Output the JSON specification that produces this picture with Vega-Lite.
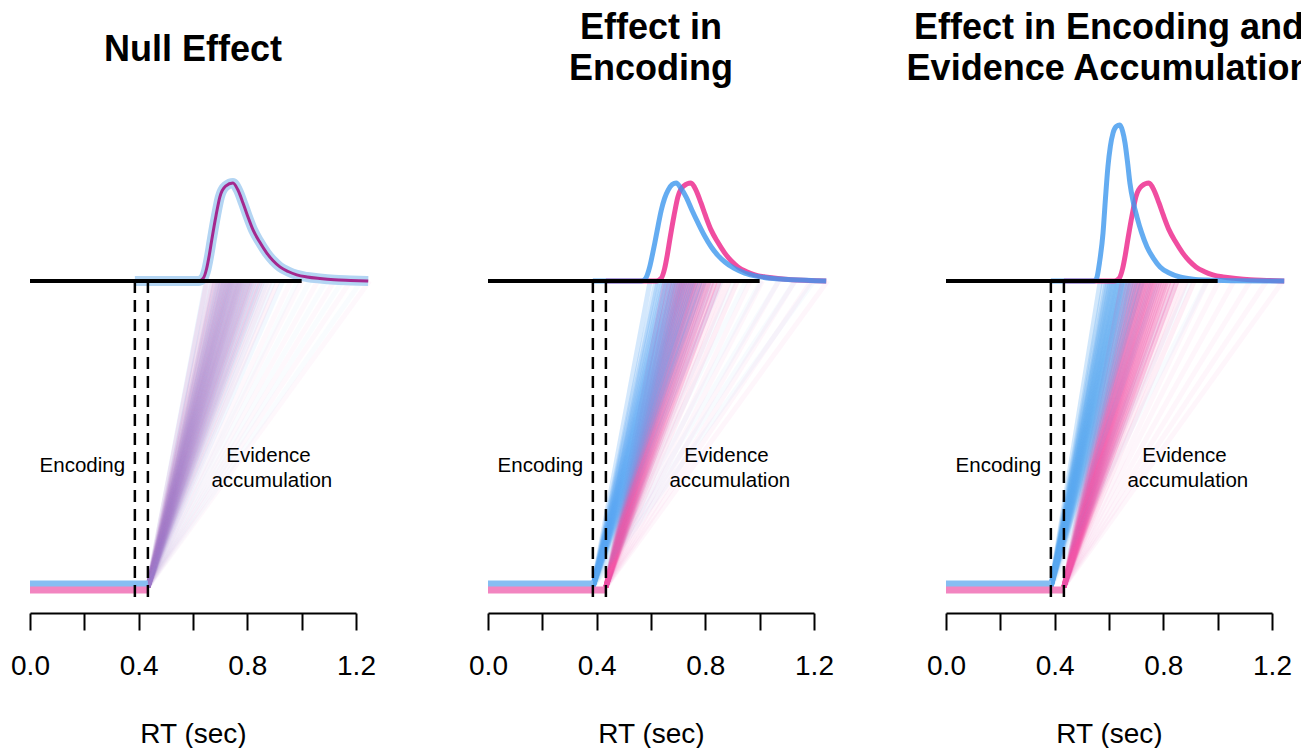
{
 "$schema": "https://vega.github.io/schema/vega-lite/v6.json",
 "padding": {"left": 10, "top": 10, "right": 0, "bottom": 0},
 "bounds": "flush",
 "spacing": 132,
 "background": "white",
 "config": {"view": {"stroke": null}, "font": "Liberation Sans", "axisY": {"disable": true}},
 "datasets": {
  "traces": [
   {"p":"null","c":"blue","t":0.434,"t2":0.648,"y":0,"y2":1},{"p":"null","c":"blue","t":0.434,"t2":0.668,"y":0,"y2":1},{"p":"null","c":"blue","t":0.434,"t2":0.684,"y":0,"y2":1},{"p":"null","c":"blue","t":0.434,"t2":0.693,"y":0,"y2":1},{"p":"null","c":"blue","t":0.434,"t2":0.702,"y":0,"y2":1},{"p":"null","c":"blue","t":0.434,"t2":0.708,"y":0,"y2":1},{"p":"null","c":"blue","t":0.434,"t2":0.715,"y":0,"y2":1},{"p":"null","c":"blue","t":0.434,"t2":0.721,"y":0,"y2":1},{"p":"null","c":"blue","t":0.434,"t2":0.727,"y":0,"y2":1},{"p":"null","c":"blue","t":0.434,"t2":0.733,"y":0,"y2":1},{"p":"null","c":"blue","t":0.434,"t2":0.739,"y":0,"y2":1},{"p":"null","c":"blue","t":0.434,"t2":0.744,"y":0,"y2":1},{"p":"null","c":"blue","t":0.434,"t2":0.750,"y":0,"y2":1},{"p":"null","c":"blue","t":0.434,"t2":0.757,"y":0,"y2":1},{"p":"null","c":"blue","t":0.434,"t2":0.763,"y":0,"y2":1},{"p":"null","c":"blue","t":0.434,"t2":0.770,"y":0,"y2":1},{"p":"null","c":"blue","t":0.434,"t2":0.776,"y":0,"y2":1},{"p":"null","c":"blue","t":0.434,"t2":0.783,"y":0,"y2":1},{"p":"null","c":"blue","t":0.434,"t2":0.791,"y":0,"y2":1},{"p":"null","c":"blue","t":0.434,"t2":0.799,"y":0,"y2":1},{"p":"null","c":"blue","t":0.434,"t2":0.808,"y":0,"y2":1},{"p":"null","c":"blue","t":0.434,"t2":0.817,"y":0,"y2":1},{"p":"null","c":"blue","t":0.434,"t2":0.828,"y":0,"y2":1},{"p":"null","c":"blue","t":0.434,"t2":0.842,"y":0,"y2":1},{"p":"null","c":"blue","t":0.434,"t2":0.857,"y":0,"y2":1},{"p":"null","c":"blue","t":0.434,"t2":0.874,"y":0,"y2":1},{"p":"null","c":"blue","t":0.434,"t2":0.897,"y":0,"y2":1},{"p":"null","c":"blue","t":0.434,"t2":0.930,"y":0,"y2":1},{"p":"null","c":"blue","t":0.434,"t2":0.985,"y":0,"y2":1},{"p":"null","c":"blue","t":0.434,"t2":1.03,"y":0,"y2":1},{"p":"null","c":"blue","t":0.434,"t2":1.09,"y":0,"y2":1},{"p":"null","c":"blue","t":0.434,"t2":1.15,"y":0,"y2":1},{"p":"null","c":"blue","t":0.434,"t2":1.22,"y":0,"y2":1},
   {"p":"null","c":"pink","t":0.434,"t2":0.651,"y":0,"y2":1},{"p":"null","c":"pink","t":0.434,"t2":0.672,"y":0,"y2":1},{"p":"null","c":"pink","t":0.434,"t2":0.681,"y":0,"y2":1},{"p":"null","c":"pink","t":0.434,"t2":0.690,"y":0,"y2":1},{"p":"null","c":"pink","t":0.434,"t2":0.699,"y":0,"y2":1},{"p":"null","c":"pink","t":0.434,"t2":0.705,"y":0,"y2":1},{"p":"null","c":"pink","t":0.434,"t2":0.712,"y":0,"y2":1},{"p":"null","c":"pink","t":0.434,"t2":0.718,"y":0,"y2":1},{"p":"null","c":"pink","t":0.434,"t2":0.724,"y":0,"y2":1},{"p":"null","c":"pink","t":0.434,"t2":0.730,"y":0,"y2":1},{"p":"null","c":"pink","t":0.434,"t2":0.736,"y":0,"y2":1},{"p":"null","c":"pink","t":0.434,"t2":0.741,"y":0,"y2":1},{"p":"null","c":"pink","t":0.434,"t2":0.747,"y":0,"y2":1},{"p":"null","c":"pink","t":0.434,"t2":0.754,"y":0,"y2":1},{"p":"null","c":"pink","t":0.434,"t2":0.760,"y":0,"y2":1},{"p":"null","c":"pink","t":0.434,"t2":0.767,"y":0,"y2":1},{"p":"null","c":"pink","t":0.434,"t2":0.773,"y":0,"y2":1},{"p":"null","c":"pink","t":0.434,"t2":0.779,"y":0,"y2":1},{"p":"null","c":"pink","t":0.434,"t2":0.787,"y":0,"y2":1},{"p":"null","c":"pink","t":0.434,"t2":0.795,"y":0,"y2":1},{"p":"null","c":"pink","t":0.434,"t2":0.804,"y":0,"y2":1},{"p":"null","c":"pink","t":0.434,"t2":0.813,"y":0,"y2":1},{"p":"null","c":"pink","t":0.434,"t2":0.821,"y":0,"y2":1},{"p":"null","c":"pink","t":0.434,"t2":0.836,"y":0,"y2":1},{"p":"null","c":"pink","t":0.434,"t2":0.850,"y":0,"y2":1},{"p":"null","c":"pink","t":0.434,"t2":0.865,"y":0,"y2":1},{"p":"null","c":"pink","t":0.434,"t2":0.885,"y":0,"y2":1},{"p":"null","c":"pink","t":0.434,"t2":0.913,"y":0,"y2":1},{"p":"null","c":"pink","t":0.434,"t2":0.960,"y":0,"y2":1},{"p":"null","c":"pink","t":0.434,"t2":1.000,"y":0,"y2":1},{"p":"null","c":"pink","t":0.434,"t2":1.059,"y":0,"y2":1},{"p":"null","c":"pink","t":0.434,"t2":1.12,"y":0,"y2":1},{"p":"null","c":"pink","t":0.434,"t2":1.18,"y":0,"y2":1},{"p":"null","c":"pink","t":0.434,"t2":1.25,"y":0,"y2":1},
   {"p":"enc","c":"blue","t":0.386,"t2":0.597,"y":0,"y2":1},{"p":"enc","c":"blue","t":0.386,"t2":0.618,"y":0,"y2":1},{"p":"enc","c":"blue","t":0.386,"t2":0.627,"y":0,"y2":1},{"p":"enc","c":"blue","t":0.386,"t2":0.636,"y":0,"y2":1},{"p":"enc","c":"blue","t":0.386,"t2":0.645,"y":0,"y2":1},{"p":"enc","c":"blue","t":0.386,"t2":0.651,"y":0,"y2":1},{"p":"enc","c":"blue","t":0.386,"t2":0.658,"y":0,"y2":1},{"p":"enc","c":"blue","t":0.386,"t2":0.664,"y":0,"y2":1},{"p":"enc","c":"blue","t":0.386,"t2":0.670,"y":0,"y2":1},{"p":"enc","c":"blue","t":0.386,"t2":0.676,"y":0,"y2":1},{"p":"enc","c":"blue","t":0.386,"t2":0.682,"y":0,"y2":1},{"p":"enc","c":"blue","t":0.386,"t2":0.687,"y":0,"y2":1},{"p":"enc","c":"blue","t":0.386,"t2":0.693,"y":0,"y2":1},{"p":"enc","c":"blue","t":0.386,"t2":0.700,"y":0,"y2":1},{"p":"enc","c":"blue","t":0.386,"t2":0.706,"y":0,"y2":1},{"p":"enc","c":"blue","t":0.386,"t2":0.713,"y":0,"y2":1},{"p":"enc","c":"blue","t":0.386,"t2":0.719,"y":0,"y2":1},{"p":"enc","c":"blue","t":0.386,"t2":0.725,"y":0,"y2":1},{"p":"enc","c":"blue","t":0.386,"t2":0.733,"y":0,"y2":1},{"p":"enc","c":"blue","t":0.386,"t2":0.741,"y":0,"y2":1},{"p":"enc","c":"blue","t":0.386,"t2":0.750,"y":0,"y2":1},{"p":"enc","c":"blue","t":0.386,"t2":0.759,"y":0,"y2":1},{"p":"enc","c":"blue","t":0.386,"t2":0.767,"y":0,"y2":1},{"p":"enc","c":"blue","t":0.386,"t2":0.782,"y":0,"y2":1},{"p":"enc","c":"blue","t":0.386,"t2":0.796,"y":0,"y2":1},{"p":"enc","c":"blue","t":0.386,"t2":0.811,"y":0,"y2":1},{"p":"enc","c":"blue","t":0.386,"t2":0.831,"y":0,"y2":1},{"p":"enc","c":"blue","t":0.386,"t2":0.859,"y":0,"y2":1},{"p":"enc","c":"blue","t":0.386,"t2":0.906,"y":0,"y2":1},{"p":"enc","c":"blue","t":0.386,"t2":0.95,"y":0,"y2":1},{"p":"enc","c":"blue","t":0.386,"t2":1.005,"y":0,"y2":1},{"p":"enc","c":"blue","t":0.386,"t2":1.07,"y":0,"y2":1},{"p":"enc","c":"blue","t":0.386,"t2":1.13,"y":0,"y2":1},{"p":"enc","c":"blue","t":0.386,"t2":1.2,"y":0,"y2":1},
   {"p":"enc","c":"pink","t":0.434,"t2":0.653,"y":0,"y2":1},{"p":"enc","c":"pink","t":0.434,"t2":0.670,"y":0,"y2":1},{"p":"enc","c":"pink","t":0.434,"t2":0.683,"y":0,"y2":1},{"p":"enc","c":"pink","t":0.434,"t2":0.692,"y":0,"y2":1},{"p":"enc","c":"pink","t":0.434,"t2":0.700,"y":0,"y2":1},{"p":"enc","c":"pink","t":0.434,"t2":0.707,"y":0,"y2":1},{"p":"enc","c":"pink","t":0.434,"t2":0.713,"y":0,"y2":1},{"p":"enc","c":"pink","t":0.434,"t2":0.719,"y":0,"y2":1},{"p":"enc","c":"pink","t":0.434,"t2":0.725,"y":0,"y2":1},{"p":"enc","c":"pink","t":0.434,"t2":0.731,"y":0,"y2":1},{"p":"enc","c":"pink","t":0.434,"t2":0.737,"y":0,"y2":1},{"p":"enc","c":"pink","t":0.434,"t2":0.743,"y":0,"y2":1},{"p":"enc","c":"pink","t":0.434,"t2":0.749,"y":0,"y2":1},{"p":"enc","c":"pink","t":0.434,"t2":0.755,"y":0,"y2":1},{"p":"enc","c":"pink","t":0.434,"t2":0.761,"y":0,"y2":1},{"p":"enc","c":"pink","t":0.434,"t2":0.768,"y":0,"y2":1},{"p":"enc","c":"pink","t":0.434,"t2":0.774,"y":0,"y2":1},{"p":"enc","c":"pink","t":0.434,"t2":0.781,"y":0,"y2":1},{"p":"enc","c":"pink","t":0.434,"t2":0.789,"y":0,"y2":1},{"p":"enc","c":"pink","t":0.434,"t2":0.797,"y":0,"y2":1},{"p":"enc","c":"pink","t":0.434,"t2":0.806,"y":0,"y2":1},{"p":"enc","c":"pink","t":0.434,"t2":0.815,"y":0,"y2":1},{"p":"enc","c":"pink","t":0.434,"t2":0.825,"y":0,"y2":1},{"p":"enc","c":"pink","t":0.434,"t2":0.838,"y":0,"y2":1},{"p":"enc","c":"pink","t":0.434,"t2":0.852,"y":0,"y2":1},{"p":"enc","c":"pink","t":0.434,"t2":0.868,"y":0,"y2":1},{"p":"enc","c":"pink","t":0.434,"t2":0.889,"y":0,"y2":1},{"p":"enc","c":"pink","t":0.434,"t2":0.918,"y":0,"y2":1},{"p":"enc","c":"pink","t":0.434,"t2":0.965,"y":0,"y2":1},{"p":"enc","c":"pink","t":0.434,"t2":1.01,"y":0,"y2":1},{"p":"enc","c":"pink","t":0.434,"t2":1.07,"y":0,"y2":1},{"p":"enc","c":"pink","t":0.434,"t2":1.13,"y":0,"y2":1},{"p":"enc","c":"pink","t":0.434,"t2":1.19,"y":0,"y2":1},{"p":"enc","c":"pink","t":0.434,"t2":1.25,"y":0,"y2":1},
   {"p":"both","c":"blue","t":0.386,"t2":0.568,"y":0,"y2":1},{"p":"both","c":"blue","t":0.386,"t2":0.583,"y":0,"y2":1},{"p":"both","c":"blue","t":0.386,"t2":0.591,"y":0,"y2":1},{"p":"both","c":"blue","t":0.386,"t2":0.598,"y":0,"y2":1},{"p":"both","c":"blue","t":0.386,"t2":0.603,"y":0,"y2":1},{"p":"both","c":"blue","t":0.386,"t2":0.607,"y":0,"y2":1},{"p":"both","c":"blue","t":0.386,"t2":0.612,"y":0,"y2":1},{"p":"both","c":"blue","t":0.386,"t2":0.617,"y":0,"y2":1},{"p":"both","c":"blue","t":0.386,"t2":0.621,"y":0,"y2":1},{"p":"both","c":"blue","t":0.386,"t2":0.625,"y":0,"y2":1},{"p":"both","c":"blue","t":0.386,"t2":0.630,"y":0,"y2":1},{"p":"both","c":"blue","t":0.386,"t2":0.634,"y":0,"y2":1},{"p":"both","c":"blue","t":0.386,"t2":0.638,"y":0,"y2":1},{"p":"both","c":"blue","t":0.386,"t2":0.642,"y":0,"y2":1},{"p":"both","c":"blue","t":0.386,"t2":0.647,"y":0,"y2":1},{"p":"both","c":"blue","t":0.386,"t2":0.651,"y":0,"y2":1},{"p":"both","c":"blue","t":0.386,"t2":0.655,"y":0,"y2":1},{"p":"both","c":"blue","t":0.386,"t2":0.660,"y":0,"y2":1},{"p":"both","c":"blue","t":0.386,"t2":0.665,"y":0,"y2":1},{"p":"both","c":"blue","t":0.386,"t2":0.671,"y":0,"y2":1},{"p":"both","c":"blue","t":0.386,"t2":0.676,"y":0,"y2":1},{"p":"both","c":"blue","t":0.386,"t2":0.683,"y":0,"y2":1},{"p":"both","c":"blue","t":0.386,"t2":0.691,"y":0,"y2":1},{"p":"both","c":"blue","t":0.386,"t2":0.699,"y":0,"y2":1},{"p":"both","c":"blue","t":0.386,"t2":0.710,"y":0,"y2":1},{"p":"both","c":"blue","t":0.386,"t2":0.723,"y":0,"y2":1},{"p":"both","c":"blue","t":0.386,"t2":0.736,"y":0,"y2":1},{"p":"both","c":"blue","t":0.386,"t2":0.758,"y":0,"y2":1},{"p":"both","c":"blue","t":0.386,"t2":0.785,"y":0,"y2":1},{"p":"both","c":"blue","t":0.386,"t2":0.848,"y":0,"y2":1},{"p":"both","c":"blue","t":0.386,"t2":0.90,"y":0,"y2":1},{"p":"both","c":"blue","t":0.386,"t2":0.96,"y":0,"y2":1},
   {"p":"both","c":"pink","t":0.434,"t2":0.650,"y":0,"y2":1},{"p":"both","c":"pink","t":0.434,"t2":0.671,"y":0,"y2":1},{"p":"both","c":"pink","t":0.434,"t2":0.682,"y":0,"y2":1},{"p":"both","c":"pink","t":0.434,"t2":0.691,"y":0,"y2":1},{"p":"both","c":"pink","t":0.434,"t2":0.699,"y":0,"y2":1},{"p":"both","c":"pink","t":0.434,"t2":0.706,"y":0,"y2":1},{"p":"both","c":"pink","t":0.434,"t2":0.712,"y":0,"y2":1},{"p":"both","c":"pink","t":0.434,"t2":0.718,"y":0,"y2":1},{"p":"both","c":"pink","t":0.434,"t2":0.724,"y":0,"y2":1},{"p":"both","c":"pink","t":0.434,"t2":0.730,"y":0,"y2":1},{"p":"both","c":"pink","t":0.434,"t2":0.736,"y":0,"y2":1},{"p":"both","c":"pink","t":0.434,"t2":0.742,"y":0,"y2":1},{"p":"both","c":"pink","t":0.434,"t2":0.748,"y":0,"y2":1},{"p":"both","c":"pink","t":0.434,"t2":0.754,"y":0,"y2":1},{"p":"both","c":"pink","t":0.434,"t2":0.760,"y":0,"y2":1},{"p":"both","c":"pink","t":0.434,"t2":0.766,"y":0,"y2":1},{"p":"both","c":"pink","t":0.434,"t2":0.772,"y":0,"y2":1},{"p":"both","c":"pink","t":0.434,"t2":0.779,"y":0,"y2":1},{"p":"both","c":"pink","t":0.434,"t2":0.787,"y":0,"y2":1},{"p":"both","c":"pink","t":0.434,"t2":0.795,"y":0,"y2":1},{"p":"both","c":"pink","t":0.434,"t2":0.804,"y":0,"y2":1},{"p":"both","c":"pink","t":0.434,"t2":0.813,"y":0,"y2":1},{"p":"both","c":"pink","t":0.434,"t2":0.822,"y":0,"y2":1},{"p":"both","c":"pink","t":0.434,"t2":0.836,"y":0,"y2":1},{"p":"both","c":"pink","t":0.434,"t2":0.851,"y":0,"y2":1},{"p":"both","c":"pink","t":0.434,"t2":0.866,"y":0,"y2":1},{"p":"both","c":"pink","t":0.434,"t2":0.886,"y":0,"y2":1},{"p":"both","c":"pink","t":0.434,"t2":0.914,"y":0,"y2":1},{"p":"both","c":"pink","t":0.434,"t2":0.962,"y":0,"y2":1},{"p":"both","c":"pink","t":0.434,"t2":1.005,"y":0,"y2":1},{"p":"both","c":"pink","t":0.434,"t2":1.06,"y":0,"y2":1},{"p":"both","c":"pink","t":0.434,"t2":1.12,"y":0,"y2":1},{"p":"both","c":"pink","t":0.434,"t2":1.18,"y":0,"y2":1},{"p":"both","c":"pink","t":0.434,"t2":1.24,"y":0,"y2":1}
  ],
  "start": [
   {"p":"null","c":"blue","t":0,"t2":0.434,"y":0},{"p":"null","c":"pink","t":0,"t2":0.434,"y":0},
   {"p":"enc","c":"blue","t":0,"t2":0.386,"y":0},{"p":"enc","c":"pink","t":0,"t2":0.434,"y":0},
   {"p":"both","c":"blue","t":0,"t2":0.386,"y":0},{"p":"both","c":"pink","t":0,"t2":0.434,"y":0}
  ],
  "bound": [
   {"p":"null","t":0,"t2":1.0,"y":1},{"p":"enc","t":0,"t2":1.0,"y":1},{"p":"both","t":0,"t2":1.0,"y":1}
  ],
  "dashes": [
   {"p":"null","t":0.386,"y":1,"y2":-0.035},{"p":"null","t":0.434,"y":1,"y2":-0.035},
   {"p":"enc","t":0.386,"y":1,"y2":-0.035},{"p":"enc","t":0.434,"y":1,"y2":-0.035},
   {"p":"both","t":0.386,"y":1,"y2":-0.035},{"p":"both","t":0.434,"y":1,"y2":-0.035}
  ],
  "notes": [
   {"label":"Encoding","t":0.35,"y":0.376},{"label":"Evidence","t":0.878,"y":0.408},{"label":"accumulation","t":0.89,"y":0.327}
  ],
  "dens": [
   {"p":"null","c":"blue","t":0.386,"y":1},{"p":"null","c":"blue","t":0.62,"y":1},{"p":"null","c":"blue","t":0.637,"y":1.008},{"p":"null","c":"blue","t":0.65,"y":1.04},{"p":"null","c":"blue","t":0.66,"y":1.085},{"p":"null","c":"blue","t":0.669,"y":1.134},{"p":"null","c":"blue","t":0.685,"y":1.215},{"p":"null","c":"blue","t":0.699,"y":1.275},{"p":"null","c":"blue","t":0.72,"y":1.31},{"p":"null","c":"blue","t":0.747,"y":1.32},{"p":"null","c":"blue","t":0.765,"y":1.298},{"p":"null","c":"blue","t":0.784,"y":1.255},{"p":"null","c":"blue","t":0.8,"y":1.215},{"p":"null","c":"blue","t":0.821,"y":1.167},{"p":"null","c":"blue","t":0.845,"y":1.128},{"p":"null","c":"blue","t":0.871,"y":1.092},{"p":"null","c":"blue","t":0.895,"y":1.066},{"p":"null","c":"blue","t":0.92,"y":1.046},{"p":"null","c":"blue","t":0.95,"y":1.031},{"p":"null","c":"blue","t":0.982,"y":1.02},{"p":"null","c":"blue","t":1.02,"y":1.013},{"p":"null","c":"blue","t":1.067,"y":1.008},{"p":"null","c":"blue","t":1.12,"y":1.004},{"p":"null","c":"blue","t":1.18,"y":1.002},{"p":"null","c":"blue","t":1.245,"y":1.0},
   {"p":"null","c":"pink","t":0.434,"y":1},{"p":"null","c":"pink","t":0.62,"y":1},{"p":"null","c":"pink","t":0.637,"y":1.008},{"p":"null","c":"pink","t":0.65,"y":1.04},{"p":"null","c":"pink","t":0.66,"y":1.085},{"p":"null","c":"pink","t":0.669,"y":1.134},{"p":"null","c":"pink","t":0.685,"y":1.215},{"p":"null","c":"pink","t":0.699,"y":1.275},{"p":"null","c":"pink","t":0.72,"y":1.31},{"p":"null","c":"pink","t":0.747,"y":1.32},{"p":"null","c":"pink","t":0.765,"y":1.298},{"p":"null","c":"pink","t":0.784,"y":1.255},{"p":"null","c":"pink","t":0.8,"y":1.215},{"p":"null","c":"pink","t":0.821,"y":1.167},{"p":"null","c":"pink","t":0.845,"y":1.128},{"p":"null","c":"pink","t":0.871,"y":1.092},{"p":"null","c":"pink","t":0.895,"y":1.066},{"p":"null","c":"pink","t":0.92,"y":1.046},{"p":"null","c":"pink","t":0.95,"y":1.031},{"p":"null","c":"pink","t":0.982,"y":1.02},{"p":"null","c":"pink","t":1.02,"y":1.013},{"p":"null","c":"pink","t":1.067,"y":1.008},{"p":"null","c":"pink","t":1.12,"y":1.004},{"p":"null","c":"pink","t":1.18,"y":1.002},{"p":"null","c":"pink","t":1.245,"y":1.0},
   {"p":"enc","c":"pink","t":0.434,"y":1},{"p":"enc","c":"pink","t":0.62,"y":1},{"p":"enc","c":"pink","t":0.637,"y":1.008},{"p":"enc","c":"pink","t":0.65,"y":1.04},{"p":"enc","c":"pink","t":0.66,"y":1.085},{"p":"enc","c":"pink","t":0.669,"y":1.134},{"p":"enc","c":"pink","t":0.685,"y":1.215},{"p":"enc","c":"pink","t":0.699,"y":1.275},{"p":"enc","c":"pink","t":0.72,"y":1.31},{"p":"enc","c":"pink","t":0.747,"y":1.32},{"p":"enc","c":"pink","t":0.765,"y":1.298},{"p":"enc","c":"pink","t":0.784,"y":1.255},{"p":"enc","c":"pink","t":0.8,"y":1.215},{"p":"enc","c":"pink","t":0.821,"y":1.167},{"p":"enc","c":"pink","t":0.845,"y":1.128},{"p":"enc","c":"pink","t":0.871,"y":1.092},{"p":"enc","c":"pink","t":0.895,"y":1.066},{"p":"enc","c":"pink","t":0.92,"y":1.046},{"p":"enc","c":"pink","t":0.95,"y":1.031},{"p":"enc","c":"pink","t":0.982,"y":1.02},{"p":"enc","c":"pink","t":1.02,"y":1.013},{"p":"enc","c":"pink","t":1.067,"y":1.008},{"p":"enc","c":"pink","t":1.12,"y":1.004},{"p":"enc","c":"pink","t":1.18,"y":1.002},{"p":"enc","c":"pink","t":1.245,"y":1.0},
   {"p":"enc","c":"blue","t":0.386,"y":1},{"p":"enc","c":"blue","t":0.565,"y":1},{"p":"enc","c":"blue","t":0.58,"y":1.008},{"p":"enc","c":"blue","t":0.595,"y":1.045},{"p":"enc","c":"blue","t":0.605,"y":1.085},{"p":"enc","c":"blue","t":0.614,"y":1.124},{"p":"enc","c":"blue","t":0.626,"y":1.18},{"p":"enc","c":"blue","t":0.638,"y":1.232},{"p":"enc","c":"blue","t":0.65,"y":1.27},{"p":"enc","c":"blue","t":0.663,"y":1.297},{"p":"enc","c":"blue","t":0.678,"y":1.315},{"p":"enc","c":"blue","t":0.693,"y":1.32},{"p":"enc","c":"blue","t":0.71,"y":1.303},{"p":"enc","c":"blue","t":0.729,"y":1.275},{"p":"enc","c":"blue","t":0.75,"y":1.233},{"p":"enc","c":"blue","t":0.773,"y":1.19},{"p":"enc","c":"blue","t":0.797,"y":1.148},{"p":"enc","c":"blue","t":0.822,"y":1.111},{"p":"enc","c":"blue","t":0.847,"y":1.083},{"p":"enc","c":"blue","t":0.872,"y":1.062},{"p":"enc","c":"blue","t":0.905,"y":1.042},{"p":"enc","c":"blue","t":0.945,"y":1.026},{"p":"enc","c":"blue","t":0.993,"y":1.015},{"p":"enc","c":"blue","t":1.05,"y":1.008},{"p":"enc","c":"blue","t":1.12,"y":1.004},{"p":"enc","c":"blue","t":1.245,"y":1.0},
   {"p":"both","c":"pink","t":0.434,"y":1},{"p":"both","c":"pink","t":0.62,"y":1},{"p":"both","c":"pink","t":0.637,"y":1.008},{"p":"both","c":"pink","t":0.65,"y":1.04},{"p":"both","c":"pink","t":0.66,"y":1.085},{"p":"both","c":"pink","t":0.669,"y":1.134},{"p":"both","c":"pink","t":0.685,"y":1.215},{"p":"both","c":"pink","t":0.699,"y":1.275},{"p":"both","c":"pink","t":0.72,"y":1.31},{"p":"both","c":"pink","t":0.747,"y":1.32},{"p":"both","c":"pink","t":0.765,"y":1.298},{"p":"both","c":"pink","t":0.784,"y":1.255},{"p":"both","c":"pink","t":0.8,"y":1.215},{"p":"both","c":"pink","t":0.821,"y":1.167},{"p":"both","c":"pink","t":0.845,"y":1.128},{"p":"both","c":"pink","t":0.871,"y":1.092},{"p":"both","c":"pink","t":0.895,"y":1.066},{"p":"both","c":"pink","t":0.92,"y":1.046},{"p":"both","c":"pink","t":0.95,"y":1.031},{"p":"both","c":"pink","t":0.982,"y":1.02},{"p":"both","c":"pink","t":1.02,"y":1.013},{"p":"both","c":"pink","t":1.067,"y":1.008},{"p":"both","c":"pink","t":1.12,"y":1.004},{"p":"both","c":"pink","t":1.18,"y":1.002},{"p":"both","c":"pink","t":1.245,"y":1.0},
   {"p":"both","c":"blue","t":0.386,"y":1},{"p":"both","c":"blue","t":0.545,"y":1},{"p":"both","c":"blue","t":0.555,"y":1.01},{"p":"both","c":"blue","t":0.565,"y":1.06},{"p":"both","c":"blue","t":0.578,"y":1.157},{"p":"both","c":"blue","t":0.587,"y":1.27},{"p":"both","c":"blue","t":0.596,"y":1.373},{"p":"both","c":"blue","t":0.605,"y":1.44},{"p":"both","c":"blue","t":0.615,"y":1.484},{"p":"both","c":"blue","t":0.627,"y":1.505},{"p":"both","c":"blue","t":0.64,"y":1.51},{"p":"both","c":"blue","t":0.65,"y":1.49},{"p":"both","c":"blue","t":0.659,"y":1.451},{"p":"both","c":"blue","t":0.668,"y":1.39},{"p":"both","c":"blue","t":0.677,"y":1.32},{"p":"both","c":"blue","t":0.69,"y":1.255},{"p":"both","c":"blue","t":0.703,"y":1.209},{"p":"both","c":"blue","t":0.72,"y":1.158},{"p":"both","c":"blue","t":0.74,"y":1.111},{"p":"both","c":"blue","t":0.763,"y":1.075},{"p":"both","c":"blue","t":0.788,"y":1.046},{"p":"both","c":"blue","t":0.82,"y":1.027},{"p":"both","c":"blue","t":0.861,"y":1.013},{"p":"both","c":"blue","t":0.91,"y":1.006},{"p":"both","c":"blue","t":0.96,"y":1.003},{"p":"both","c":"blue","t":1.05,"y":1.001},{"p":"both","c":"blue","t":1.245,"y":1.0}
  ]
 },
 "hconcat": [
  {
   "width": 326, "height": 513,
   "title": {"text": "Null Effect", "fontSize": 36, "fontWeight": "bold", "font": "Liberation Sans", "color": "black", "anchor": "middle", "frame": "group", "baseline": "alphabetic", "offset": 3, "lineHeight": 41},
   "layer": [
    {"data": {"name": "traces"}, "transform": [{"filter": "datum.p == 'null'"}], "mark": {"type": "rule", "strokeWidth": 5}, "encoding": {
      "x": {"field": "t", "type": "quantitative", "scale": {"domain": [0, 1.2], "nice": false, "zero": false}, "axis": {"values": [0, 0.2, 0.4, 0.6, 0.8, 1.0, 1.2], "labelExpr": "round(datum.value*10) % 4 == 0 ? format(datum.value, '.1f') : ''", "title": "RT (sec)", "grid": false, "domainColor": "black", "domainWidth": 2, "tickColor": "black", "tickWidth": 2, "tickSize": 17, "labelFontSize": 28, "labelColor": "black", "labelPadding": 22, "labelFlush": false, "labelOverlap": false, "titleFontSize": 28, "titleFontWeight": "normal", "titleColor": "black", "titlePadding": 40, "labelFont": "Liberation Sans", "titleFont": "Liberation Sans"}},
      "x2": {"field": "t2"},
      "y": {"field": "y", "type": "quantitative", "scale": {"domain": [-0.085, 1.5915], "nice": false, "zero": false}, "axis": null},
      "y2": {"field": "y2"},
      "color": {"field": "c", "type": "nominal", "scale": {"domain": ["blue", "pink"], "range": ["#5aa8f2", "#f255a8"]}, "legend": null},
      "opacity": {"condition": [{"test": "datum.t2 > 0.95", "value": 0.04}, {"test": "datum.t2 > 0.86", "value": 0.08}], "value": 0.12},
      "order": {"field": "t2", "type": "quantitative"}}},
    {"data": {"name": "start"}, "transform": [{"filter": "datum.p == 'null' && datum.c == 'blue'"}], "mark": {"type": "rule", "color": "#86bdf2", "strokeWidth": 7, "yOffset": -3}, "encoding": {"x": {"field": "t", "type": "quantitative", "scale": {"domain": [0, 1.2], "nice": false, "zero": false}}, "x2": {"field": "t2"}, "y": {"field": "y", "type": "quantitative", "scale": {"domain": [-0.085, 1.5915], "nice": false, "zero": false}, "axis": null}}},
    {"data": {"name": "start"}, "transform": [{"filter": "datum.p == 'null' && datum.c == 'pink'"}], "mark": {"type": "rule", "color": "#f285c0", "strokeWidth": 7, "yOffset": 3}, "encoding": {"x": {"field": "t", "type": "quantitative", "scale": {"domain": [0, 1.2], "nice": false, "zero": false}}, "x2": {"field": "t2"}, "y": {"field": "y", "type": "quantitative", "scale": {"domain": [-0.085, 1.5915], "nice": false, "zero": false}, "axis": null}}},
    {"data": {"name": "dens"}, "transform": [{"filter": "datum.p == 'null' && datum.c == 'blue'"}], "mark": {"type": "line", "color": "#b3d5f3", "strokeWidth": 10, "interpolate": "monotone", "strokeJoin": "round"}, "encoding": {"x": {"field": "t", "type": "quantitative", "scale": {"domain": [0, 1.2], "nice": false, "zero": false}}, "y": {"field": "y", "type": "quantitative", "scale": {"domain": [-0.085, 1.5915], "nice": false, "zero": false}, "axis": null}}},
    {"data": {"name": "dens"}, "transform": [{"filter": "datum.p == 'null' && datum.c == 'pink'"}], "mark": {"type": "line", "color": "#a4288e", "strokeWidth": 3, "interpolate": "monotone", "strokeJoin": "round"}, "encoding": {"x": {"field": "t", "type": "quantitative", "scale": {"domain": [0, 1.2], "nice": false, "zero": false}}, "y": {"field": "y", "type": "quantitative", "scale": {"domain": [-0.085, 1.5915], "nice": false, "zero": false}, "axis": null}}},
    {"data": {"name": "bound"}, "transform": [{"filter": "datum.p == 'null'"}], "mark": {"type": "rule", "color": "black", "strokeWidth": 4}, "encoding": {"x": {"field": "t", "type": "quantitative", "scale": {"domain": [0, 1.2], "nice": false, "zero": false}}, "x2": {"field": "t2"}, "y": {"field": "y", "type": "quantitative", "scale": {"domain": [-0.085, 1.5915], "nice": false, "zero": false}, "axis": null}}},
    {"data": {"name": "dashes"}, "transform": [{"filter": "datum.p == 'null'"}], "mark": {"type": "rule", "color": "black", "strokeWidth": 2.5, "strokeDash": [12, 7]}, "encoding": {"x": {"field": "t", "type": "quantitative", "scale": {"domain": [0, 1.2], "nice": false, "zero": false}}, "y": {"field": "y", "type": "quantitative", "scale": {"domain": [-0.085, 1.5915], "nice": false, "zero": false}, "axis": null}, "y2": {"field": "y2"}}},
    {"data": {"name": "notes"}, "transform": [{"filter": "datum.label == 'Encoding'"}], "mark": {"type": "text", "align": "right", "baseline": "alphabetic", "fontSize": 20.5, "color": "black"}, "encoding": {"x": {"field": "t", "type": "quantitative", "scale": {"domain": [0, 1.2], "nice": false, "zero": false}}, "y": {"field": "y", "type": "quantitative", "scale": {"domain": [-0.085, 1.5915], "nice": false, "zero": false}, "axis": null}, "text": {"field": "label"}}},
    {"data": {"name": "notes"}, "transform": [{"filter": "datum.label != 'Encoding'"}], "mark": {"type": "text", "align": "center", "baseline": "alphabetic", "fontSize": 20.5, "color": "black"}, "encoding": {"x": {"field": "t", "type": "quantitative", "scale": {"domain": [0, 1.2], "nice": false, "zero": false}}, "y": {"field": "y", "type": "quantitative", "scale": {"domain": [-0.085, 1.5915], "nice": false, "zero": false}, "axis": null}, "text": {"field": "label"}}}
   ]
  },
  {
   "width": 326, "height": 513,
   "title": {"text": ["Effect in", "Encoding"], "fontSize": 36, "fontWeight": "bold", "font": "Liberation Sans", "color": "black", "anchor": "middle", "frame": "group", "baseline": "alphabetic", "offset": -16, "lineHeight": 41},
   "layer": [
    {"data": {"name": "traces"}, "transform": [{"filter": "datum.p == 'enc'"}], "mark": {"type": "rule", "strokeWidth": 5}, "encoding": {
      "x": {"field": "t", "type": "quantitative", "scale": {"domain": [0, 1.2], "nice": false, "zero": false}, "axis": {"values": [0, 0.2, 0.4, 0.6, 0.8, 1.0, 1.2], "labelExpr": "round(datum.value*10) % 4 == 0 ? format(datum.value, '.1f') : ''", "title": "RT (sec)", "grid": false, "domainColor": "black", "domainWidth": 2, "tickColor": "black", "tickWidth": 2, "tickSize": 17, "labelFontSize": 28, "labelColor": "black", "labelPadding": 22, "labelFlush": false, "labelOverlap": false, "titleFontSize": 28, "titleFontWeight": "normal", "titleColor": "black", "titlePadding": 40, "labelFont": "Liberation Sans", "titleFont": "Liberation Sans"}},
      "x2": {"field": "t2"},
      "y": {"field": "y", "type": "quantitative", "scale": {"domain": [-0.085, 1.5915], "nice": false, "zero": false}, "axis": null},
      "y2": {"field": "y2"},
      "color": {"field": "c", "type": "nominal", "scale": {"domain": ["blue", "pink"], "range": ["#4a9ff0", "#f0449c"]}, "legend": null},
      "opacity": {"condition": [{"test": "datum.t2 > 0.95 || (datum.c == 'blue' && datum.t2 > 0.9)", "value": 0.05}, {"test": "datum.t2 > 0.86 || (datum.c == 'blue' && datum.t2 > 0.8)", "value": 0.1}], "value": 0.26},
      "order": {"field": "t2", "type": "quantitative"}}},
    {"data": {"name": "start"}, "transform": [{"filter": "datum.p == 'enc' && datum.c == 'blue'"}], "mark": {"type": "rule", "color": "#86bdf2", "strokeWidth": 7, "yOffset": -3}, "encoding": {"x": {"field": "t", "type": "quantitative", "scale": {"domain": [0, 1.2], "nice": false, "zero": false}}, "x2": {"field": "t2"}, "y": {"field": "y", "type": "quantitative", "scale": {"domain": [-0.085, 1.5915], "nice": false, "zero": false}, "axis": null}}},
    {"data": {"name": "start"}, "transform": [{"filter": "datum.p == 'enc' && datum.c == 'pink'"}], "mark": {"type": "rule", "color": "#f285c0", "strokeWidth": 7, "yOffset": 3}, "encoding": {"x": {"field": "t", "type": "quantitative", "scale": {"domain": [0, 1.2], "nice": false, "zero": false}}, "x2": {"field": "t2"}, "y": {"field": "y", "type": "quantitative", "scale": {"domain": [-0.085, 1.5915], "nice": false, "zero": false}, "axis": null}}},
    {"data": {"name": "dens"}, "transform": [{"filter": "datum.p == 'enc' && datum.c == 'pink'"}], "mark": {"type": "line", "color": "#ee3a96", "opacity": 0.9, "strokeWidth": 5, "interpolate": "monotone", "strokeJoin": "round"}, "encoding": {"x": {"field": "t", "type": "quantitative", "scale": {"domain": [0, 1.2], "nice": false, "zero": false}}, "y": {"field": "y", "type": "quantitative", "scale": {"domain": [-0.085, 1.5915], "nice": false, "zero": false}, "axis": null}}},
    {"data": {"name": "dens"}, "transform": [{"filter": "datum.p == 'enc' && datum.c == 'blue'"}], "mark": {"type": "line", "color": "#3d97ee", "opacity": 0.8, "strokeWidth": 5, "interpolate": "monotone", "strokeJoin": "round"}, "encoding": {"x": {"field": "t", "type": "quantitative", "scale": {"domain": [0, 1.2], "nice": false, "zero": false}}, "y": {"field": "y", "type": "quantitative", "scale": {"domain": [-0.085, 1.5915], "nice": false, "zero": false}, "axis": null}}},
    {"data": {"name": "bound"}, "transform": [{"filter": "datum.p == 'enc'"}], "mark": {"type": "rule", "color": "black", "strokeWidth": 4}, "encoding": {"x": {"field": "t", "type": "quantitative", "scale": {"domain": [0, 1.2], "nice": false, "zero": false}}, "x2": {"field": "t2"}, "y": {"field": "y", "type": "quantitative", "scale": {"domain": [-0.085, 1.5915], "nice": false, "zero": false}, "axis": null}}},
    {"data": {"name": "dashes"}, "transform": [{"filter": "datum.p == 'enc'"}], "mark": {"type": "rule", "color": "black", "strokeWidth": 2.5, "strokeDash": [12, 7]}, "encoding": {"x": {"field": "t", "type": "quantitative", "scale": {"domain": [0, 1.2], "nice": false, "zero": false}}, "y": {"field": "y", "type": "quantitative", "scale": {"domain": [-0.085, 1.5915], "nice": false, "zero": false}, "axis": null}, "y2": {"field": "y2"}}},
    {"data": {"name": "notes"}, "transform": [{"filter": "datum.label == 'Encoding'"}], "mark": {"type": "text", "align": "right", "baseline": "alphabetic", "fontSize": 20.5, "color": "black"}, "encoding": {"x": {"field": "t", "type": "quantitative", "scale": {"domain": [0, 1.2], "nice": false, "zero": false}}, "y": {"field": "y", "type": "quantitative", "scale": {"domain": [-0.085, 1.5915], "nice": false, "zero": false}, "axis": null}, "text": {"field": "label"}}},
    {"data": {"name": "notes"}, "transform": [{"filter": "datum.label != 'Encoding'"}], "mark": {"type": "text", "align": "center", "baseline": "alphabetic", "fontSize": 20.5, "color": "black"}, "encoding": {"x": {"field": "t", "type": "quantitative", "scale": {"domain": [0, 1.2], "nice": false, "zero": false}}, "y": {"field": "y", "type": "quantitative", "scale": {"domain": [-0.085, 1.5915], "nice": false, "zero": false}, "axis": null}, "text": {"field": "label"}}}
   ]
  },
  {
   "width": 326, "height": 513,
   "title": {"text": ["Effect in Encoding and", "Evidence Accumulation"], "fontSize": 36, "fontWeight": "bold", "font": "Liberation Sans", "color": "black", "anchor": "middle", "frame": "group", "baseline": "alphabetic", "offset": -16, "lineHeight": 41},
   "layer": [
    {"data": {"name": "traces"}, "transform": [{"filter": "datum.p == 'both'"}], "mark": {"type": "rule", "strokeWidth": 5}, "encoding": {
      "x": {"field": "t", "type": "quantitative", "scale": {"domain": [0, 1.2], "nice": false, "zero": false}, "axis": {"values": [0, 0.2, 0.4, 0.6, 0.8, 1.0, 1.2], "labelExpr": "round(datum.value*10) % 4 == 0 ? format(datum.value, '.1f') : ''", "title": "RT (sec)", "grid": false, "domainColor": "black", "domainWidth": 2, "tickColor": "black", "tickWidth": 2, "tickSize": 17, "labelFontSize": 28, "labelColor": "black", "labelPadding": 22, "labelFlush": false, "labelOverlap": false, "titleFontSize": 28, "titleFontWeight": "normal", "titleColor": "black", "titlePadding": 40, "labelFont": "Liberation Sans", "titleFont": "Liberation Sans"}},
      "x2": {"field": "t2"},
      "y": {"field": "y", "type": "quantitative", "scale": {"domain": [-0.085, 1.5915], "nice": false, "zero": false}, "axis": null},
      "y2": {"field": "y2"},
      "color": {"field": "c", "type": "nominal", "scale": {"domain": ["blue", "pink"], "range": ["#4a9ff0", "#f0449c"]}, "legend": null},
      "opacity": {"condition": [{"test": "datum.t2 > 0.95 || (datum.c == 'blue' && datum.t2 > 0.8)", "value": 0.05}, {"test": "datum.t2 > 0.86 || (datum.c == 'blue' && datum.t2 > 0.73)", "value": 0.1}], "value": 0.28},
      "order": {"field": "t2", "type": "quantitative"}}},
    {"data": {"name": "start"}, "transform": [{"filter": "datum.p == 'both' && datum.c == 'blue'"}], "mark": {"type": "rule", "color": "#86bdf2", "strokeWidth": 7, "yOffset": -3}, "encoding": {"x": {"field": "t", "type": "quantitative", "scale": {"domain": [0, 1.2], "nice": false, "zero": false}}, "x2": {"field": "t2"}, "y": {"field": "y", "type": "quantitative", "scale": {"domain": [-0.085, 1.5915], "nice": false, "zero": false}, "axis": null}}},
    {"data": {"name": "start"}, "transform": [{"filter": "datum.p == 'both' && datum.c == 'pink'"}], "mark": {"type": "rule", "color": "#f285c0", "strokeWidth": 7, "yOffset": 3}, "encoding": {"x": {"field": "t", "type": "quantitative", "scale": {"domain": [0, 1.2], "nice": false, "zero": false}}, "x2": {"field": "t2"}, "y": {"field": "y", "type": "quantitative", "scale": {"domain": [-0.085, 1.5915], "nice": false, "zero": false}, "axis": null}}},
    {"data": {"name": "dens"}, "transform": [{"filter": "datum.p == 'both' && datum.c == 'pink'"}], "mark": {"type": "line", "color": "#ee3a96", "opacity": 0.9, "strokeWidth": 5, "interpolate": "monotone", "strokeJoin": "round"}, "encoding": {"x": {"field": "t", "type": "quantitative", "scale": {"domain": [0, 1.2], "nice": false, "zero": false}}, "y": {"field": "y", "type": "quantitative", "scale": {"domain": [-0.085, 1.5915], "nice": false, "zero": false}, "axis": null}}},
    {"data": {"name": "dens"}, "transform": [{"filter": "datum.p == 'both' && datum.c == 'blue'"}], "mark": {"type": "line", "color": "#3d97ee", "opacity": 0.8, "strokeWidth": 5, "interpolate": "monotone", "strokeJoin": "round"}, "encoding": {"x": {"field": "t", "type": "quantitative", "scale": {"domain": [0, 1.2], "nice": false, "zero": false}}, "y": {"field": "y", "type": "quantitative", "scale": {"domain": [-0.085, 1.5915], "nice": false, "zero": false}, "axis": null}}},
    {"data": {"name": "bound"}, "transform": [{"filter": "datum.p == 'both'"}], "mark": {"type": "rule", "color": "black", "strokeWidth": 4}, "encoding": {"x": {"field": "t", "type": "quantitative", "scale": {"domain": [0, 1.2], "nice": false, "zero": false}}, "x2": {"field": "t2"}, "y": {"field": "y", "type": "quantitative", "scale": {"domain": [-0.085, 1.5915], "nice": false, "zero": false}, "axis": null}}},
    {"data": {"name": "dashes"}, "transform": [{"filter": "datum.p == 'both'"}], "mark": {"type": "rule", "color": "black", "strokeWidth": 2.5, "strokeDash": [12, 7]}, "encoding": {"x": {"field": "t", "type": "quantitative", "scale": {"domain": [0, 1.2], "nice": false, "zero": false}}, "y": {"field": "y", "type": "quantitative", "scale": {"domain": [-0.085, 1.5915], "nice": false, "zero": false}, "axis": null}, "y2": {"field": "y2"}}},
    {"data": {"name": "notes"}, "transform": [{"filter": "datum.label == 'Encoding'"}], "mark": {"type": "text", "align": "right", "baseline": "alphabetic", "fontSize": 20.5, "color": "black"}, "encoding": {"x": {"field": "t", "type": "quantitative", "scale": {"domain": [0, 1.2], "nice": false, "zero": false}}, "y": {"field": "y", "type": "quantitative", "scale": {"domain": [-0.085, 1.5915], "nice": false, "zero": false}, "axis": null}, "text": {"field": "label"}}},
    {"data": {"name": "notes"}, "transform": [{"filter": "datum.label != 'Encoding'"}], "mark": {"type": "text", "align": "center", "baseline": "alphabetic", "fontSize": 20.5, "color": "black"}, "encoding": {"x": {"field": "t", "type": "quantitative", "scale": {"domain": [0, 1.2], "nice": false, "zero": false}}, "y": {"field": "y", "type": "quantitative", "scale": {"domain": [-0.085, 1.5915], "nice": false, "zero": false}, "axis": null}, "text": {"field": "label"}}}
   ]
  }
 ]
}
